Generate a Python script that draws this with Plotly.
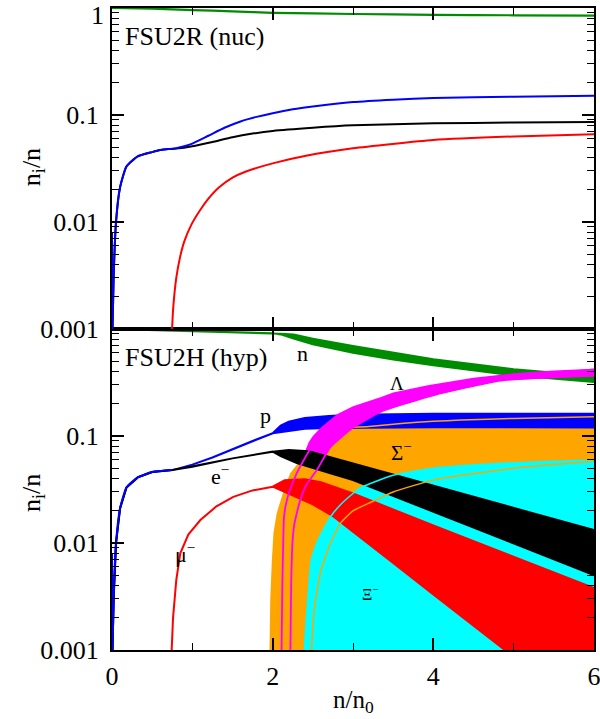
import math
import plotly.graph_objects as go

FONT = "Liberation Serif, Times New Roman, Times, serif"

# ---------------- top panel: FSU2R (nuc) ----------------
t_n_x = [0.0, 0.5, 1.0, 1.5, 2.0, 3.0, 4.0, 5.0, 6.0]
t_n_y = [1.0, 0.985, 0.957, 0.93, 0.902, 0.879, 0.862, 0.855, 0.85]

t_p_x = [0.0, 0.005, 0.02, 0.05, 0.1, 0.18, 0.32, 0.5, 0.6, 0.7, 0.8, 0.9, 1.0, 1.2, 1.4, 1.6, 1.8, 2.0, 2.25, 2.5, 3.0, 3.5, 4.0, 5.0, 6.0]
t_p_y = [0.008, 0.0009, 0.003, 0.01, 0.021, 0.033, 0.041, 0.045, 0.047, 0.048, 0.049, 0.051, 0.054, 0.064, 0.076, 0.087, 0.096, 0.104, 0.113, 0.12, 0.132, 0.139, 0.144, 0.148, 0.151]

t_e_x = [0.0, 0.005, 0.02, 0.05, 0.1, 0.18, 0.32, 0.5, 0.6, 0.7, 0.8, 1.0, 1.25, 1.5, 1.75, 2.0, 2.5, 3.0, 4.0, 5.0, 6.0]
t_e_y = [0.008, 0.0009, 0.003, 0.01, 0.021, 0.033, 0.041, 0.045, 0.047, 0.048, 0.0485, 0.051, 0.056, 0.062, 0.067, 0.071, 0.076, 0.080, 0.0836, 0.085, 0.086]

t_mu_x = [0.745, 0.76, 0.8, 0.85, 0.9, 0.99, 1.1, 1.2, 1.33, 1.5, 1.66, 2.0, 2.43, 3.0, 4.0, 5.0, 6.0]
t_mu_y = [0.0009, 0.0015, 0.003, 0.0048, 0.0066, 0.0095, 0.013, 0.0165, 0.021, 0.026, 0.0295, 0.0353, 0.0418, 0.0489, 0.0584, 0.063, 0.066]

# ---------------- bottom panel: FSU2H (hyp) ----------------
n_line_x = [0.0, 0.5, 1.0, 1.5, 2.0]
n_line_y = [1.0, 0.98, 0.958, 0.935, 0.912]
n_top_x = [2.1, 2.26, 2.5, 3.0, 3.5, 4.0, 5.0, 6.0]
n_top_y = [0.905, 0.89, 0.81, 0.693, 0.6, 0.521, 0.42, 0.364]
n_bot_x = [2.1, 2.26, 2.5, 3.0, 3.5, 4.0, 5.0, 6.0]
n_bot_y = [0.89, 0.815, 0.72, 0.601, 0.52, 0.458, 0.369, 0.32]

p_line_x = [0.0, 0.005, 0.02, 0.05, 0.1, 0.18, 0.32, 0.5, 0.75, 1.0, 1.25, 1.5, 1.75, 2.0]
p_line_y = [0.008, 0.0009, 0.003, 0.01, 0.021, 0.033, 0.041, 0.046, 0.048, 0.054, 0.063, 0.075, 0.09, 0.106]
p_top_x = [2.1, 2.2, 2.4, 2.7, 3.0, 3.5, 4.0, 6.0]
p_top_y = [0.125, 0.136, 0.147, 0.154, 0.158, 0.160, 0.161, 0.161]
p_bot_x = [2.2, 2.4, 2.7, 3.0, 4.0, 6.0]
p_bot_y = [0.112, 0.117, 0.119, 0.120, 0.121, 0.120]

e_line_x = [0.0, 0.005, 0.02, 0.05, 0.1, 0.18, 0.32, 0.5, 0.75, 1.0, 1.5, 2.0]
e_line_y = [0.008, 0.0009, 0.003, 0.01, 0.021, 0.033, 0.041, 0.046, 0.048, 0.0517, 0.0618, 0.0714]
e_top_x = [2.2, 2.45, 3.0, 4.0, 5.0, 6.0]
e_top_y = [0.074, 0.072, 0.0553, 0.0343, 0.0213, 0.0132]
e_bot_x = [2.1, 2.3, 2.5, 2.75, 3.0, 4.0, 5.0, 6.0]
e_bot_y = [0.065, 0.056, 0.050, 0.044, 0.0388, 0.0197, 0.0099, 0.005]

mu_line_x = [0.74, 0.76, 0.8, 0.85, 0.95, 1.1, 1.3, 1.51, 1.75, 2.0]
mu_line_y = [0.0009, 0.002, 0.0045, 0.008, 0.012, 0.0164, 0.022, 0.027, 0.031, 0.0336]
mu_top_x = [2.15, 2.4, 2.6, 2.8, 3.0, 4.0, 5.0, 6.0]
mu_top_y = [0.0385, 0.0395, 0.037, 0.033, 0.029, 0.0146, 0.0074, 0.0038]
mu_bot_x = [2.2, 2.5, 2.76, 3.0, 3.5, 4.0, 4.5, 4.89, 5.2, 6.0]
mu_bot_y = [0.029, 0.023, 0.0176, 0.0127, 0.0065, 0.0033, 0.00168, 0.001, 0.0005, 0.0001]

lam_hi_x = [2.36, 2.4, 2.45, 2.5, 2.6, 2.8, 3.0, 3.35, 3.5, 3.93, 4.5, 5.0, 5.5, 6.0]
lam_hi_y = [0.06, 0.072, 0.088, 0.1, 0.12, 0.16, 0.19, 0.232, 0.255, 0.298, 0.35, 0.385, 0.41, 0.426]
lam_lo_x = [2.62, 2.72, 3.0, 3.35, 4.0, 4.84, 6.0]
lam_lo_y = [0.06, 0.079, 0.12, 0.169, 0.24, 0.33, 0.364]
lam_a_x = [2.11, 2.12, 2.13, 2.14, 2.16, 2.2, 2.3, 2.4, 2.51, 2.8, 3.0, 3.35, 4.0, 5.0, 6.0]
lam_a_y = [0.0009, 0.004, 0.009, 0.017, 0.022, 0.029, 0.045, 0.062, 0.085, 0.13, 0.155, 0.195, 0.26, 0.355, 0.42]
lam_b_x = [2.22, 2.23, 2.24, 2.25, 2.27, 2.3, 2.35, 2.42, 2.55, 2.72, 3.0, 3.35, 4.0, 4.84, 6.0]
lam_b_y = [0.0009, 0.004, 0.008, 0.011, 0.015, 0.019, 0.026, 0.035, 0.048, 0.079, 0.12, 0.169, 0.24, 0.33, 0.364]

sig_top_x = [1.96, 1.97, 1.99, 2.01, 2.05, 2.1, 2.16, 2.22, 2.35, 2.5, 2.7, 2.85, 3.0, 3.2, 3.6, 4.0, 4.34, 5.0, 6.0]
sig_top_y = [0.0009, 0.003, 0.0069, 0.0124, 0.019, 0.025, 0.035, 0.045, 0.06, 0.08, 0.105, 0.118, 0.121, 0.123, 0.131, 0.137, 0.141, 0.146, 0.151]
sig_lo_x = [2.48, 2.52, 2.6, 2.72, 2.85, 3.0, 3.2, 3.5, 4.0, 5.0, 6.0]
sig_lo_y = [0.0009, 0.0025, 0.0055, 0.01, 0.0155, 0.02, 0.0236, 0.03, 0.0387, 0.05, 0.058]

xi_top_x = [2.39, 2.42, 2.45, 2.48, 2.56, 2.72, 2.85, 3.0, 3.1, 3.5, 4.0, 4.84, 6.0]
xi_top_y = [0.0009, 0.002, 0.004, 0.0069, 0.0105, 0.0176, 0.023, 0.029, 0.033, 0.043, 0.05, 0.0556, 0.0597]

FLOOR = 1e-4

lab_text = ["n", "p", "e<sup>−</sup>", "μ<sup>−</sup>", "Λ", "Σ<sup>−</sup>", "Ξ<sup>−</sup>"]
lab_x = [2.37, 1.91, 1.35, 0.91, 3.55, 3.6, 3.22]
lab_y = [0.59, 0.157, 0.043, 0.008, 0.31, 0.071, 0.0034]
lab_size = [22, 22, 22, 22, 19, 21, 16]

GREEN = "#008c00"
BLUE = "#0000ff"
RED = "#ff0000"
BLACK = "#000000"
MAG = "#ff00ff"
ORANGE = "#ffa500"
CYAN = "#00ffff"

fig = go.Figure()


def band(lx, ly, tx, ty, bx, by, color, lw=2.0):
    xs = lx + tx + bx[::-1] + lx[::-1]
    ys = ly + ty + by[::-1] + ly[::-1]
    fig.add_trace(go.Scatter(x=xs, y=ys, mode="lines", fill="toself",
                             fillcolor=color, line=dict(color=color, width=lw),
                             xaxis="x", yaxis="y", hoverinfo="skip"))


def fill_down(tx, ty, color):
    xs = tx + [tx[-1], tx[0]]
    ys = ty + [FLOOR, FLOOR]
    fig.add_trace(go.Scatter(x=xs, y=ys, mode="lines", fill="toself",
                             fillcolor=color, line=dict(color=color, width=0),
                             xaxis="x", yaxis="y", hoverinfo="skip"))


def line(x, y, color, w, ax="x", ay="y"):
    fig.add_trace(go.Scatter(x=x, y=y, mode="lines",
                             line=dict(color=color, width=w, shape="spline", smoothing=0.5),
                             xaxis=ax, yaxis=ay, hoverinfo="skip"))


# top panel
line(t_n_x, t_n_y, GREEN, 2.2, "x2", "y2")
line(t_mu_x, t_mu_y, RED, 2.0, "x2", "y2")
line(t_e_x, t_e_y, BLACK, 2.0, "x2", "y2")
line(t_p_x, t_p_y, BLUE, 2.0, "x2", "y2")

# bottom panel
band(n_line_x, n_line_y, n_top_x, n_top_y, n_bot_x, n_bot_y, GREEN)
fill_down(sig_top_x, sig_top_y, ORANGE)
fill_down(xi_top_x, xi_top_y, CYAN)
band(p_line_x, p_line_y, p_top_x, p_top_y, p_bot_x, p_bot_y, BLUE)
fig.add_trace(go.Scatter(x=lam_hi_x + lam_lo_x[::-1], y=lam_hi_y + lam_lo_y[::-1],
                         mode="lines", fill="toself", fillcolor=MAG,
                         line=dict(color=MAG, width=0), xaxis="x", yaxis="y",
                         hoverinfo="skip"))
band(mu_line_x, mu_line_y, mu_top_x, mu_top_y, mu_bot_x, mu_bot_y, RED)
band(e_line_x, e_line_y, e_top_x, e_top_y, e_bot_x, e_bot_y, BLACK)

line(sig_lo_x, sig_lo_y, ORANGE, 1.5)
line(sig_top_x[12:], sig_top_y[12:], ORANGE, 1.5)
line(xi_top_x, xi_top_y, CYAN, 1.5)
line(lam_a_x, lam_a_y, MAG, 1.8)
line(lam_b_x, lam_b_y, MAG, 1.8)
line(p_line_x[:9], p_line_y[:9], BLUE, 2.0)

minor_y = [m * 10.0 ** k for k in (-3, -2, -1) for m in range(2, 10)]

axis_common = dict(showline=True, linecolor="black", linewidth=2, mirror="ticks",
                   ticks="inside", ticklen=12, tickwidth=1.6, tickcolor="black",
                   showgrid=False, zeroline=False, ticklabeloverflow="allow",
                   automargin=False,
                   tickfont=dict(family=FONT, size=26, color="black"))
minor_x = dict(tickvals=[1, 3, 5], ticks="inside", ticklen=7, tickwidth=1.4, tickcolor="black")
minor_ly = dict(tickvals=minor_y, ticks="inside", ticklen=7, tickwidth=1.4, tickcolor="black")

fig.update_layout(
    width=600, height=719,
    margin=dict(l=112, r=6, t=8, b=69, autoexpand=False),
    paper_bgcolor="white", plot_bgcolor="white",
    showlegend=False,
    xaxis=dict(domain=[0, 1], anchor="y", range=[0, 6], tickvals=[0, 2, 4, 6],
               ticktext=["0", "2", "4", "6"], minor=minor_x,
               ticklabelstandoff=2, **axis_common),
    xaxis2=dict(domain=[0, 1], anchor="y2", range=[0, 6], matches="x",
                tickvals=[0, 2, 4, 6], showticklabels=False, minor=minor_x,
                **axis_common),
    yaxis=dict(domain=[0, 0.5], anchor="x", type="log", range=[-3, 0],
               tickvals=[0.001, 0.01, 0.1, 1], ticktext=["0.001", "0.01", "0.1", ""],
               minor=minor_ly, ticklabelstandoff=6, **axis_common),
    yaxis2=dict(domain=[0.5, 1], anchor="x2", type="log", range=[-3, 0],
                tickvals=[0.001, 0.01, 0.1, 1], ticktext=["0.001", "0.01", "0.1", ""],
                minor=minor_ly, ticklabelstandoff=6, **axis_common),
)

ann = []
# top tick label "1" placed slightly lower so it is not cut by the page edge
ann.append(dict(text="1", xref="paper", yref="paper", x=-0.013, y=0.9885,
                xanchor="right", yanchor="middle", showarrow=False,
                font=dict(family=FONT, size=26, color="black")))
ann.append(dict(text="FSU2R (nuc)", xref="paper", yref="paper", x=0.022, y=0.955,
                xanchor="left", yanchor="middle", showarrow=False,
                font=dict(family=FONT, size=26, color="black")))
ann.append(dict(text="FSU2H (hyp)", xref="paper", yref="paper", x=0.022, y=0.456,
                xanchor="left", yanchor="middle", showarrow=False,
                font=dict(family=FONT, size=26, color="black")))
for yy in (0.752, 0.2445):
    ann.append(dict(text="n<sub>i</sub>/n", xref="paper", yref="paper", x=-0.164, y=yy,
                    xanchor="center", yanchor="middle", textangle=-90, showarrow=False,
                    font=dict(family=FONT, size=26, color="black")))
ann.append(dict(text="n/n<sub>0</sub>", xref="paper", yref="paper", x=0.5, y=-0.08,
                xanchor="center", yanchor="middle", showarrow=False,
                font=dict(family=FONT, size=25, color="black")))
for t, x, y, s in zip(lab_text, lab_x, lab_y, lab_size):
    ann.append(dict(text=t, xref="x", yref="y", x=x, y=math.log10(y),
                    xanchor="center", yanchor="middle", showarrow=False,
                    font=dict(family=FONT, size=s, color="black")))
fig.update_layout(annotations=ann)

fig.write_html("out.html", config={"displayModeBar": False},
               post_script="document.body.style.margin='0';document.body.style.padding='0';")
